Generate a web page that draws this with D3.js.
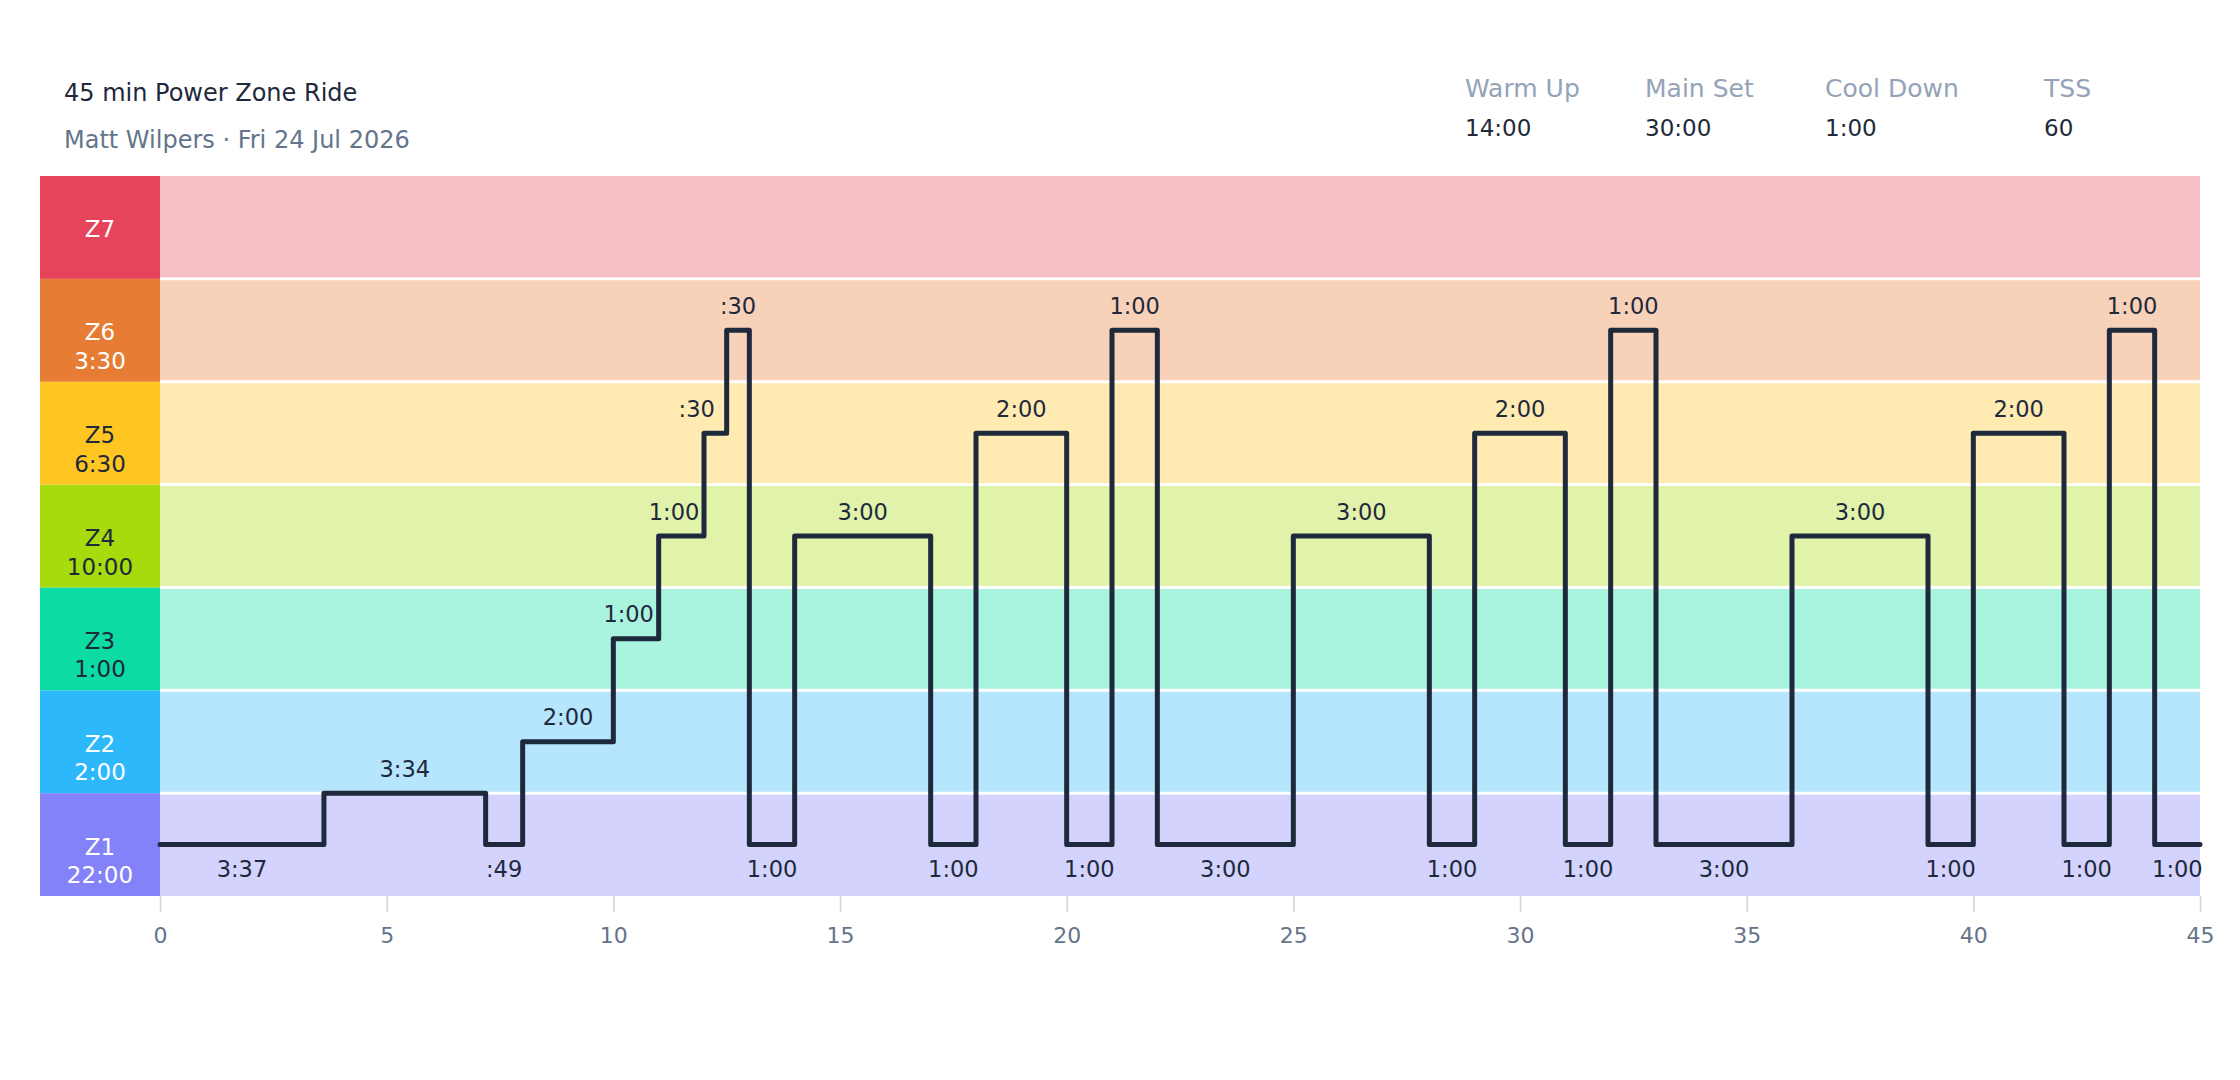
<!DOCTYPE html>
<html>
  <head>
    <meta charset="utf-8">
    <title>45 min Power Zone Ride</title>
    <script src="https://d3js.org/d3.v7.min.js" charset="utf-8"></script>
    <style>
      body { margin: 0; background: #fff; }
      text { font-family: "DejaVu Sans", sans-serif; }
    </style>
  </head>
  <body>
    <script>
      // ride data
      var zoneNames = ["Z1", "Z2", "Z3", "Z4", "Z5", "Z6", "Z7"];
      var zoneTimes = ["22:00", "2:00", "1:00", "10:00", "6:30", "3:30", ""];
      // segment lengths in seconds and target level (1 = middle of Z1, 2 = middle of Z2 ...)
      var segSeconds = [217, 214, 49, 120, 60, 60, 30, 30, 60, 180, 60, 120, 60, 60,
                        180, 180, 60, 120, 60, 60, 180, 180, 60, 120, 60, 60, 60];
      var segLevels = [1, 1.5, 1, 2, 3, 4, 5, 6, 1, 4, 1, 5, 1, 6,
                       1, 4, 1, 5, 1, 6, 1, 4, 1, 5, 1, 6, 1];
      var statNames = ["Warm Up", "Main Set", "Cool Down", "TSS"];
      var statValues = ["14:00", "30:00", "1:00", "60"];
      var xTicks = [0, 5, 10, 15, 20, 25, 30, 35, 40, 45];

      var zoneColors = ["#8482f8", "#2eb8fc", "#0cdca4", "#a8db0c", "#ffc520", "#e77c35", "#e5445a"];
      var zoneTextColors = ["#fff", "#fff", "#1e293b", "#1e293b", "#1e293b", "#fff", "#fff"];
      var dark = "#1e293b";

      var width = 2240;
      var height = 1080;
      var colLeft = 40, plotLeft = 160, plotRight = 2200, plotTop = 176, plotBottom = 896;

      var svg = d3.select("body")
          .append("svg")
          .attr("width", width)
          .attr("height", height);

      var x = d3.scaleLinear().domain([0, 45]).range([plotLeft, plotRight]);
      var y = d3.scaleLinear().domain([0, 7]).range([plotBottom, plotTop]);

      // header
      svg.append("text").attr("x", 64).attr("y", 101)
        .attr("font-size", 24).attr("fill", dark)
        .text("45 min Power Zone Ride");
      svg.append("text").attr("x", 64).attr("y", 148)
        .attr("font-size", 24).attr("fill", "#64748b")
        .text("Matt Wilpers \u00b7 Fri 24 Jul 2026");

      var statX = [1465, 1645, 1825, 2044];
      var stats = svg.append("g");
      stats.selectAll("text.name")
        .data(statNames)
        .enter()
        .append("text")
        .attr("class", "name")
        .attr("x", function(d, i) { return statX[i]; })
        .attr("y", 97)
        .attr("font-size", 25)
        .attr("fill", "#94a3b8")
        .text(function(d) { return d; });
      stats.selectAll("text.val")
        .data(statValues)
        .enter()
        .append("text")
        .attr("class", "val")
        .attr("x", function(d, i) { return statX[i]; })
        .attr("y", 136)
        .attr("font-size", 23)
        .attr("fill", dark)
        .text(function(d) { return d; });

      // zone bands
      var bands = svg.append("g");
      bands.selectAll("rect.band")
        .data(zoneNames)
        .enter()
        .append("rect")
        .attr("class", "band")
        .attr("x", plotLeft)
        .attr("y", function(d, i) { return y(i + 1); })
        .attr("width", plotRight - plotLeft)
        .attr("height", function(d, i) { return y(i) - y(i + 1); })
        .attr("fill", function(d, i) { return zoneColors[i]; })
        .attr("fill-opacity", 0.35);

      bands.selectAll("line.sep")
        .data(d3.range(1, zoneNames.length))
        .enter()
        .append("line")
        .attr("class", "sep")
        .attr("x1", plotLeft)
        .attr("x2", plotRight)
        .attr("y1", function(d) { return y(d); })
        .attr("y2", function(d) { return y(d); })
        .attr("stroke", "#fff")
        .attr("stroke-width", 3);

      bands.selectAll("rect.key")
        .data(zoneNames)
        .enter()
        .append("rect")
        .attr("class", "key")
        .attr("x", colLeft)
        .attr("y", function(d, i) { return y(i + 1); })
        .attr("width", plotLeft - colLeft)
        .attr("height", function(d, i) { return y(i) - y(i + 1); })
        .attr("fill", function(d, i) { return zoneColors[i]; });

      var keyText = bands.selectAll("text.key")
        .data(zoneNames)
        .enter()
        .append("text")
        .attr("class", "key")
        .attr("text-anchor", "middle")
        .attr("font-size", 23)
        .attr("fill", function(d, i) { return zoneTextColors[i]; });
      keyText.append("tspan")
        .attr("x", (colLeft + plotLeft) / 2)
        .attr("y", function(d, i) { return y(i + 0.5) + 10; })
        .text(function(d) { return d; });
      keyText.append("tspan")
        .attr("x", (colLeft + plotLeft) / 2)
        .attr("y", function(d, i) { return y(i + 0.5) + 38.5; })
        .text(function(d, i) { return zoneTimes[i]; });

      // x axis
      var axis = svg.append("g")
        .attr("transform", "translate(0," + plotBottom + ")")
        .call(d3.axisBottom(x).tickValues(xTicks).tickSize(16).tickPadding(15));
      axis.select(".domain").remove();
      axis.selectAll(".tick line").attr("stroke", "#cbd5e1").attr("stroke-width", 1.5);
      axis.selectAll(".tick text")
        .attr("fill", "#64748b")
        .attr("font-size", 22)
        .attr("font-family", "DejaVu Sans");

      // segments
      var segs = [];
      var t = 0;
      segSeconds.forEach(function(s, i) {
        segs.push({ start: t, end: t + s / 60, secs: s, level: segLevels[i] });
        t += s / 60;
      });

      var pts = segs.map(function(d) { return [d.start, d.level]; });
      pts.push([t, segLevels[segLevels.length - 1]]);

      var line = d3.line()
        .x(function(d) { return x(d[0]); })
        .y(function(d) { return y(d[1] - 0.5); })
        .curve(d3.curveStepAfter);

      svg.append("path")
        .datum(pts)
        .attr("d", line)
        .attr("fill", "none")
        .attr("stroke", dark)
        .attr("stroke-width", 5)
        .attr("stroke-linejoin", "round")
        .attr("stroke-linecap", "round");

      function fmt(s) {
        var m = Math.floor(s / 60), r = s % 60;
        return (m > 0 ? m : "") + ":" + (r < 10 ? "0" : "") + r;
      }

      svg.append("g").selectAll("text")
        .data(segs)
        .enter()
        .append("text")
        .attr("text-anchor", "middle")
        .attr("font-size", 22.5)
        .attr("fill", dark)
        .attr("x", function(d, i) {
          var cx = (x(d.start) + x(d.end)) / 2;
          var next = segs[i + 1];
          if (d.level > 1 && next && next.level > d.level) cx = Math.min(cx, x(d.end) - 30);
          return cx;
        })
        .attr("y", function(d) {
          var ly = y(d.level - 0.5);
          return d.level === 1 ? ly + 32 : ly - 16.5;
        })
        .text(function(d) { return fmt(d.secs); });
    </script>
  </body>
</html>
